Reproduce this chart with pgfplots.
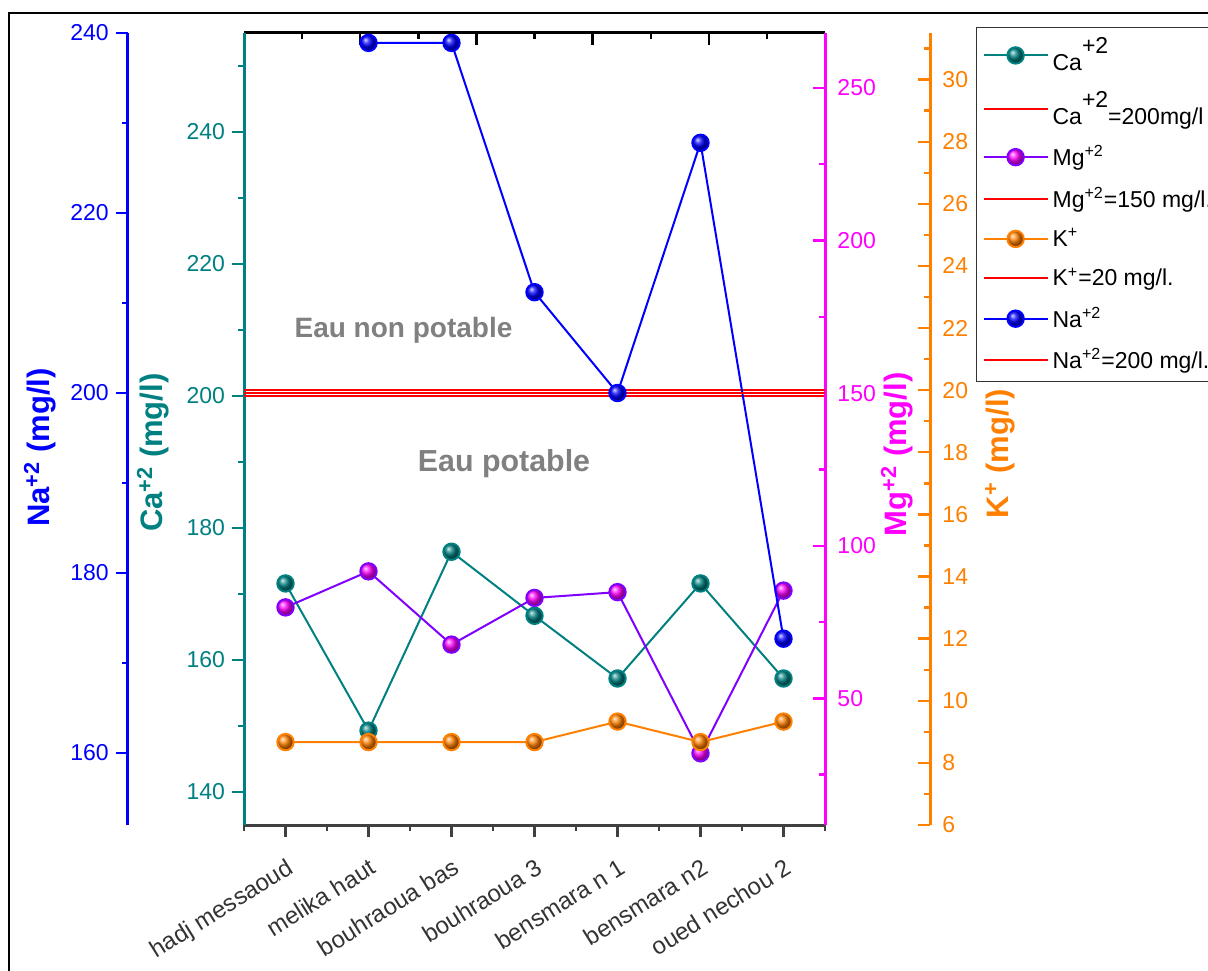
\documentclass[border=0pt]{standalone}
\usepackage{fontspec}
\setmainfont{Liberation Sans}
\usepackage{pgfplots}
\pgfplotsset{compat=1.18}
\definecolor{cateal}{RGB}{0,128,128}
\definecolor{mgmag}{RGB}{255,0,255}
\definecolor{mgline}{RGB}{128,0,255}
\definecolor{korange}{RGB}{255,128,0}
\definecolor{nablue}{RGB}{0,0,255}
\definecolor{xgray}{RGB}{64,64,64}
\definecolor{txtgray}{RGB}{128,128,128}
\newcommand{\tf}{\fontsize{11.5}{13.8}\selectfont}
\newcommand{\lf}{\fontsize{15.5}{18}\selectfont\bfseries}
\pgfplotsset{
  base/.style={scale only axis, anchor=south west, height=396pt, clip=false,
    /pgf/number format/assume math mode=true,
    tick label style={font=\tf},
    major tick length=6pt, minor tick length=3pt},
  plotarea/.style={base, at={(122pt,72.5pt)}, width=290.5pt, xmin=0.5, xmax=7.5},
  smallaxis/.style={base, width=10pt, xmin=0, xmax=1, axis x line=none},
}
\begin{document}
\begin{tikzpicture}
\useasboundingbox (0,0) rectangle (604pt,485pt);
\draw[line width=1.3pt] (4.5pt,-10pt) -- (4.5pt,478.5pt) -- (640pt,478.5pt);

% top axis ticks
\begin{axis}[base, at={(122pt,72.5pt)}, width=290.5pt, xmin=0, xmax=10, ymin=0, ymax=1,
  axis x line*=top, axis y line=none, xtick={0,2,...,10}, minor xtick={1,3,...,9},
  xticklabels={}, tick align=inside, x axis line style={black, line width=1.5pt},
  xtick style={black, line width=1.2pt}]
\end{axis}

% Ca axis (main)
\begin{axis}[plotarea, ymin=135, ymax=255,
  axis x line*=bottom, axis y line*=left, tick align=outside,
  xtick={1,...,7}, minor xtick={0.5,1.5,...,7.5},
  xticklabels={hadj messaoud,melika haut,bouhraoua bas,bouhraoua 3,bensmara n 1,bensmara n2,oued nechou 2},
  xticklabel style={font=\fontsize{12}{14}\selectfont, yshift=-10pt, rotate=32, anchor=north east, text=black!80, inner sep=0pt},
  x axis line style={xgray, line width=1.5pt}, xtick style={xgray, line width=1.2pt},
  ytick={140,160,...,240}, minor ytick={150,170,...,250},
  y axis line style={cateal, line width=1.5pt}, ytick style={cateal, line width=1.2pt},
  yticklabel style={text=cateal},
  ylabel={Ca\textsuperscript{+2} (mg/l)},
  ylabel style={font=\lf, text=cateal, at={(axis description cs:-0.1566,0.470)}, anchor=center},
]
\addplot[cateal, line width=1pt, mark=ball, mark size=4.1pt, mark options={ball color=cateal}]
  coordinates {(1,171.6) (2,149.3) (3,176.4) (4,166.7) (5,157.2) (6,171.6) (7,157.2)};
\addplot[red, line width=0.8pt] coordinates {(0.5,200) (7.5,200)};
\end{axis}

% Mg axis
\begin{axis}[plotarea, ymin=8.5, ymax=268, axis x line=none, axis y line*=right, tick align=inside,
  ytick={50,100,...,250}, minor ytick={25,75,...,225},
  y axis line style={mgmag, line width=1.5pt}, ytick style={mgmag, line width=1.2pt},
  yticklabel style={text=mgmag, xshift=2.7pt},
  ylabel={Mg\textsuperscript{+2} (mg/l)},
  ylabel style={font=\lf, text=mgmag, at={(axis description cs:1.1239,0.468)}, anchor=center},
]
\addplot[mgline, line width=1pt, mark=ball, mark size=4.1pt, mark options={ball color=mgmag}]
  coordinates {(1,79.8) (2,91.6) (3,67.6) (4,82.9) (5,84.8) (6,32.0) (7,85.3)};
\addplot[red, line width=0.8pt] coordinates {(0.5,150) (7.5,150)};
\end{axis}

% K scale axis
\begin{axis}[smallaxis, at={(455pt,72.5pt)}, ymin=6, ymax=31.5, axis y line*=right, tick align=inside,
  ytick={6,8,...,30}, minor ytick={7,9,...,31},
  y axis line style={korange, line width=1.5pt}, ytick style={korange, line width=1.2pt},
  yticklabel style={text=korange, xshift=2.7pt},
  ylabel={K\textsuperscript{+} (mg/l)},
  ylabel style={font=\lf, text=korange, at={(axis description cs:4.5,0.469)}, anchor=center},
]
\end{axis}

% K data
\begin{axis}[plotarea, ymin=6, ymax=31.5, hide axis]
\addplot[korange, line width=1pt, mark=ball, mark size=4.1pt, mark options={ball color=korange}]
  coordinates {(1,8.67) (2,8.67) (3,8.67) (4,8.67) (5,9.33) (6,8.67) (7,9.33)};
\addplot[red, line width=0.8pt] coordinates {(0.5,20) (7.5,20)};
\end{axis}

% Na scale axis
\begin{axis}[smallaxis, at={(63.85pt,72.5pt)}, ymin=152, ymax=240, axis y line*=left, tick align=outside,
  ytick={160,180,...,240}, minor ytick={170,190,...,230},
  y axis line style={nablue, line width=1.5pt}, ytick style={nablue, line width=1.2pt},
  yticklabel style={text=nablue},
  ylabel={Na\textsuperscript{+2} (mg/l)},
  ylabel style={font=\lf, text=nablue, at={(axis description cs:-4.385,0.4766)}, anchor=center},
]
\end{axis}

% Na data + legend
\begin{axis}[plotarea, ymin=152, ymax=240, hide axis,
  legend image code/.code={\draw[mark repeat=2,mark phase=2,#1] plot coordinates {(0pt,0pt) (16pt,0pt) (32pt,0pt)};},
  legend style={at={(axis description cs:1.2599,1.00758)}, anchor=north west,
    draw=black!80, line width=0.6pt, font=\tf, row sep=5.2pt, inner xsep=3pt, inner ysep=3pt},
  legend cell align=left,
]
\addlegendimage{cateal, line width=1pt, mark=ball, mark size=4.1pt, mark options={ball color=cateal}}
\addlegendentry{\rule[-3pt]{0pt}{10pt}Ca\raisebox{8.3pt}{+2}}
\addlegendimage{red, line width=1pt}
\addlegendentry{\rule[-3pt]{0pt}{10pt}Ca\raisebox{8.3pt}{+2}=200mg/l}
\addlegendimage{mgline, line width=1pt, mark=ball, mark size=4.1pt, mark options={ball color=mgmag}}
\addlegendentry{\rule[-3pt]{0pt}{10pt}Mg\textsuperscript{+2}}
\addlegendimage{red, line width=1pt}
\addlegendentry{\rule[-3pt]{0pt}{10pt}Mg\textsuperscript{+2}=150 mg/l.}
\addlegendimage{korange, line width=1pt, mark=ball, mark size=4.1pt, mark options={ball color=korange}}
\addlegendentry{\rule[-3pt]{0pt}{10pt}K\textsuperscript{+}}
\addlegendimage{red, line width=1pt}
\addlegendentry{\rule[-3pt]{0pt}{10pt}K\textsuperscript{+}=20 mg/l.}
\addlegendimage{nablue, line width=1pt, mark=ball, mark size=4.1pt, mark options={ball color=nablue}}
\addlegendentry{\rule[-3pt]{0pt}{10pt}Na\textsuperscript{+2}}
\addlegendimage{red, line width=1pt}
\addlegendentry{\rule[-3pt]{0pt}{10pt}Na\textsuperscript{+2}=200 mg/l.}
\addplot[nablue, line width=1pt, mark=ball, mark size=4.1pt, mark options={ball color=nablue}, forget plot]
  coordinates {(2,238.9) (3,238.9) (4,211.2) (5,200.0) (6,227.8) (7,172.7)};
\addplot[red, line width=0.8pt, forget plot] coordinates {(0.5,200) (7.5,200)};
\end{axis}

\node[font=\fontsize{14}{16}\selectfont\bfseries, text=txtgray] at (201.75pt,320pt) {Eau non potable};
\node[font=\fontsize{15.2}{17}\selectfont\bfseries, text=txtgray] at (252pt,253pt) {Eau potable};
\end{tikzpicture}
\end{document}
